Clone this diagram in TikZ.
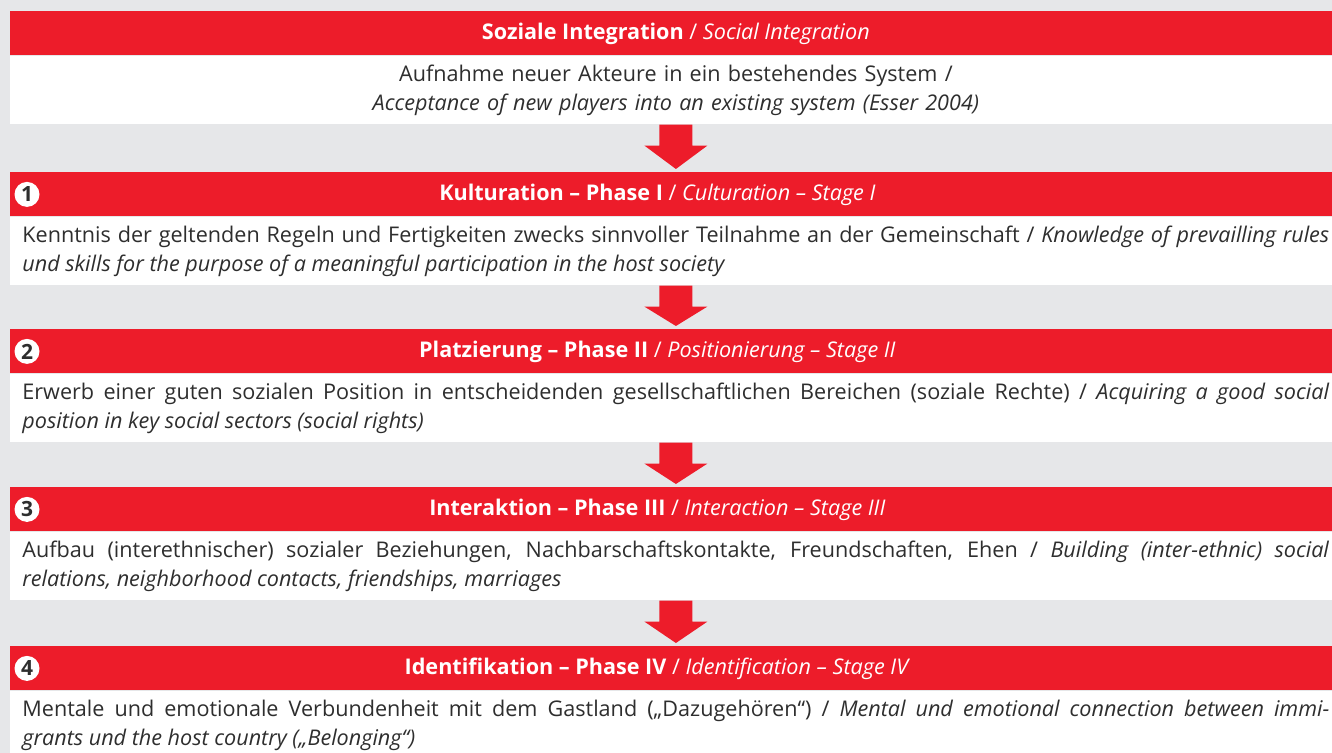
\documentclass[tikz,border=0pt]{standalone}
\usepackage{fontspec}
\setmainfont{Open Sans}
\usetikzlibrary{calc,positioning}
\definecolor{ired}{HTML}{ED1C2A}
\definecolor{bggray}{HTML}{E6E7E9}
\definecolor{txt}{HTML}{2E2E2E}
\newcommand{\stagearrow}[2]{\fill[ired] ($(#1.south)+(-16.5,0)$)--($(#1.south)+(16.5,0)$)--($(#1.south)+(16.5,21)$)--($(#1.south)+(31.5,21)$)--($(#2.north)+(0,-3)$)--($(#1.south)+(-31.5,21)$)--($(#1.south)+(-16.5,21)$)--cycle;}

\begin{document}
\begin{tikzpicture}[x=.5pt,y=-.5pt,font=\fontsize{10.8}{14.5}\selectfont,
  bar/.style={fill=ired,text=white,minimum width=665.5pt,minimum height=22pt,anchor=north west,inner sep=0pt},
  head/.style={text=white,inner sep=0pt},
  body/.style={fill=white,text=txt,text width=653.5pt,inner xsep=6pt,inner ysep=0pt,minimum height=34pt,anchor=north,align=justify},
  num/.style={circle,fill=white,text=txt,inner sep=0pt,minimum size=12.5pt,font=\fontsize{10.5}{14}\selectfont\bfseries}]
\path[use as bounding box,fill=bggray] (0,0) rectangle (1332,753);
\node[bar] (t0) at (10,11) {\textbf{Soziale Integration} / \textit{Social Integration}};
\node[body,align=center] (w0) at (t0.south) {Aufnahme neuer Akteure in ein bestehendes System /\\\textit{Acceptance of new players into an existing system (Esser 2004)}};
% stage 1
\node[bar] (b1) at (10,172) {};
\node[head] (h1) at ($(b1)+(-18.5,0)$) {\textbf{Kulturation – Phase I} / \textit{Culturation – Stage I}};
\node[num] (n1) at ($(b1.west)+(17,0)$) {1};
\node[body] (w1) at (b1.south) {\hyphenpenalty=10000 Kenntnis der geltenden Regeln und Fertigkeiten zwecks sinnvoller Teilnahme an der Gemeinschaft / \textit{Knowledge of prevailling rules}\linebreak\textit{und skills for the purpose of a meaningful participation in the host society}};
% stage 2
\node[bar] (b2) at (10,329) {};
\node[head] (h2) at ($(b2)+(-18.5,0)$) {\textbf{Platzierung – Phase II} / \textit{Positionierung – Stage II}};
\node[num] (n2) at ($(b2.west)+(17,0)$) {2};
\node[body] (w2) at (b2.south) {\hyphenpenalty=10000 Erwerb einer guten sozialen Position in entscheidenden gesellschaftlichen Bereichen (soziale Rechte) / \textit{Acquiring a good social}\linebreak\textit{position in key social sectors (social rights)}};
% stage 3
\node[bar] (b3) at (10,487) {};
\node[head] (h3) at ($(b3)+(-18.5,0)$) {\textbf{Interaktion – Phase III} / \textit{Interaction – Stage III}};
\node[num] (n3) at ($(b3.west)+(17,0)$) {3};
\node[body] (w3) at (b3.south) {\hyphenpenalty=10000 Aufbau (interethnischer) sozialer Beziehungen, Nachbarschaftskontakte, Freundschaften, Ehen / \textit{Building (inter-ethnic) social}\linebreak\textit{relations, neighborhood contacts, friendships, marriages}};
% stage 4
\node[bar] (b4) at (10,646) {};
\node[head] (h4) at ($(b4)+(-18.5,0)$) {\textbf{Identifikation – Phase IV} / \textit{Identification – Stage IV}};
\node[num] (n4) at ($(b4.west)+(17,0)$) {4};
\node[body] (w4) at (b4.south) {\hyphenpenalty=10000 Mentale und emotionale Verbundenheit mit dem Gastland („Dazugehören“) / \textit{Mental und emotional connection between immi-}\linebreak\textit{grants und the host country („Belonging“)}};
\stagearrow{w0}{b1}\stagearrow{w1}{b2}\stagearrow{w2}{b3}\stagearrow{w3}{b4}
\end{tikzpicture}
\end{document}
